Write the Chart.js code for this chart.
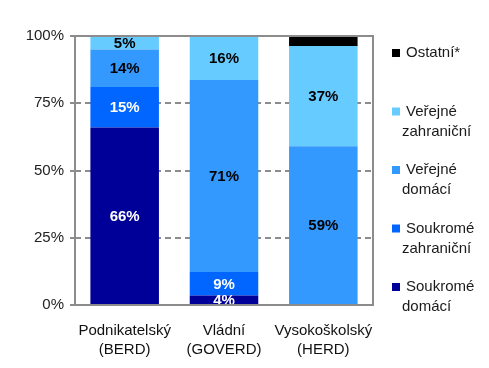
<!DOCTYPE html>
<html>
<head>
<meta charset="utf-8">
<script src="https://cdn.jsdelivr.net/npm/chart.js@4"></script>
<style>
  html, body { margin: 0; padding: 0; background: #fff; }
  #wrap { width: 489px; height: 368px; }
</style>
</head>
<body>
<div id="wrap"><canvas id="chart" width="489" height="368"></canvas></div>
<script>
// Data
const categories = [['Podnikatelský', '(BERD)'], ['Vládní', '(GOVERD)'], ['Vysokoškolský', '(HERD)']];
const soukromeDomaci = [66, 3.5, 0.4];
const soukromeZahranicni = [15, 8.8, 0];
const verejneDomaci = [14, 71.3, 58.6];
const verejneZahranicni = [5, 16.4, 37.3];
const ostatni = [0, 0, 3.7];
const yTicks = [0, 25, 50, 75, 100];

const FONT = 'Arial, "Liberation Sans", sans-serif';

// Popisky hodnot v segmentech
const valueLabels = {
    id: 'valueLabels',
    afterDatasetsDraw(chart) {
        const ctx = chart.ctx;
        ctx.save();
        ctx.font = 'bold 15px ' + FONT;
        ctx.textAlign = 'center';
        ctx.textBaseline = 'middle';
        chart.data.datasets.forEach((ds, di) => {
            if (ds.noLabel) return;
            const meta = chart.getDatasetMeta(di);
            meta.data.forEach((bar, i) => {
                const v = ds.data[i];
                if (v < 2) return;
                const p = bar.getCenterPoint();
                ctx.fillStyle = ds.labelColor;
                ctx.fillText(Math.round(v) + '%', p.x, p.y + 1);
            });
        });
        ctx.restore();
    }
};

// Rámeček grafu
const frame = {
    id: 'frame',
    afterDraw(chart) {
        const a = chart.chartArea;
        const ctx = chart.ctx;
        ctx.save();
        ctx.strokeStyle = '#8c8c8c';
        ctx.lineWidth = 2;
        ctx.strokeRect(a.left, a.top, a.right - a.left, a.bottom - a.top);
        ctx.restore();
    }
};

// Legenda vpravo (víceřádkové popisky)
const sideLegend = {
    id: 'sideLegend',
    afterDraw(chart) {
        const ctx = chart.ctx;
        const items = chart.data.datasets.slice().reverse();
        const x = chart.chartArea.right + 19;
        let y = 53;
        ctx.save();
        ctx.font = '15px ' + FONT;
        ctx.textBaseline = 'middle';
        ctx.textAlign = 'left';
        items.forEach(ds => {
            ctx.fillStyle = ds.backgroundColor;
            ctx.fillRect(x, y - 4, 8, 8);
            ctx.fillStyle = '#1a1a1a';
            ds.legendLines.forEach((line, li) => {
                ctx.fillText(line, li === 0 ? x + 14 : x + 10, y + li * 20);
            });
            y += 58.5;
        });
        ctx.restore();
    }
};

const mk = (label, data, color, labelColor, legendLines, noLabel) => ({
    label, data, backgroundColor: color, labelColor, legendLines, noLabel,
    borderWidth: 0, barPercentage: 0.69, categoryPercentage: 1
});

new Chart(document.getElementById('chart'), {
    type: 'bar',
    data: {
        labels: categories,
        datasets: [
            mk('Soukromé domácí', soukromeDomaci, '#000099', '#ffffff', ['Soukromé', 'domácí']),
            mk('Soukromé zahraniční', soukromeZahranicni, '#0066ff', '#ffffff', ['Soukromé', 'zahraniční']),
            mk('Veřejné domácí', verejneDomaci, '#3399ff', '#000000', ['Veřejné', 'domácí']),
            mk('Veřejné zahraniční', verejneZahranicni, '#66ccff', '#000000', ['Veřejné', 'zahraniční']),
            mk('Ostatní*', ostatni, '#000000', '#000000', ['Ostatní*'], true)
        ]
    },
    options: {
        responsive: false,
        animation: false,
        layout: { padding: { top: 36, right: 116, left: 0, bottom: 0 } },
        plugins: { legend: { display: false }, tooltip: { enabled: false } },
        scales: {
            x: {
                stacked: true,
                grid: { display: false },
                border: { display: false },
                ticks: {
                    color: '#111',
                    font: { family: FONT, size: 15, lineHeight: 1.3 },
                    padding: 8,
                    maxRotation: 0,
                    minRotation: 0,
                    autoSkip: false
                },
                afterFit: s => { s.height = 63; }
            },
            y: {
                stacked: true,
                min: 0,
                max: 100,
                afterBuildTicks: s => { s.ticks = yTicks.map(v => ({ value: v })); },
                grid: {
                    color: c => (c.tick && (c.tick.value === 0 || c.tick.value === 100)) ? 'rgba(0,0,0,0)' : '#8c8c8c',
                    tickColor: '#8c8c8c',
                    lineWidth: 2,
                    tickLength: 5
                },
                border: { display: false, dash: [6, 4] },
                ticks: {
                    color: '#222',
                    font: { family: FONT, size: 15 },
                    padding: 6,
                    callback: v => v + '%'
                },
                afterFit: s => { s.width = 75; }
            }
        }
    },
    plugins: [valueLabels, frame, sideLegend]
});
</script>
</body>
</html>
